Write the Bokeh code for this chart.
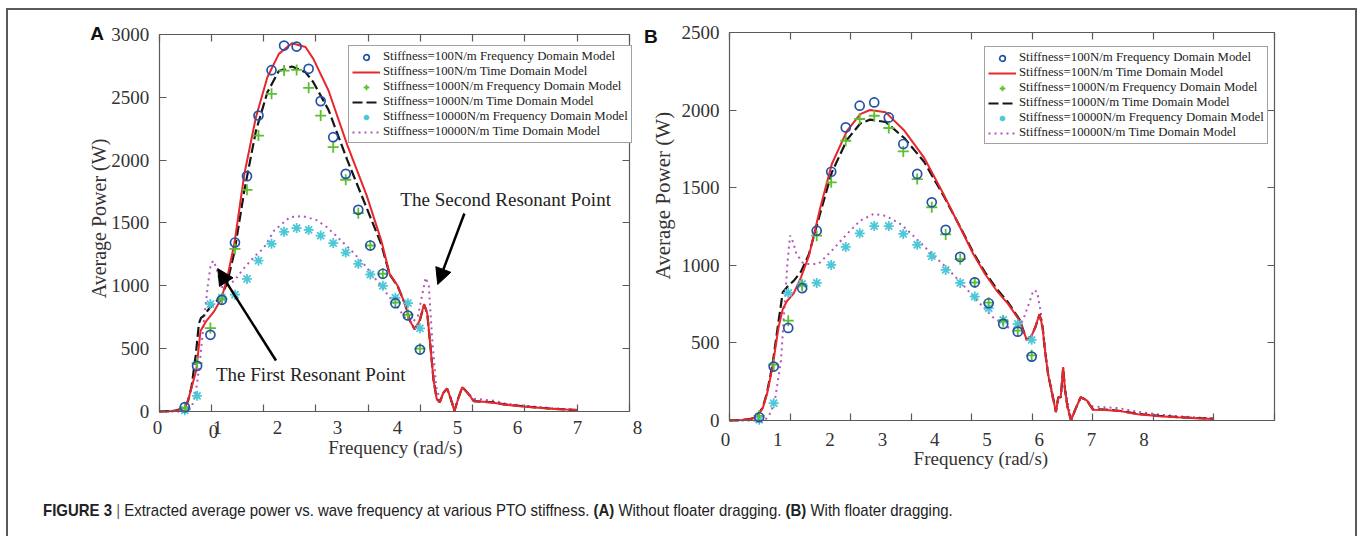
import numpy as np
from bokeh.plotting import figure
from bokeh.models import (Range1d, FixedTicker, Legend, LegendItem, Label,
                          Arrow, NormalHead, Div, Spacer, LinearAxis)
from bokeh.layouts import row, column
from bokeh.embed import file_html
from bokeh.resources import INLINE

SERIF = "Liberation Serif"
SANS = "Liberation Sans"

# ------------------------------------------------------------------ data
xtick_labels = ["0", "1", "2", "3", "4", "5", "6", "7", "8"]
xtick_label_values = [0, 1, 2, 3, 4, 5, 6, 7, 8]
x_ticks = [0, 1, 2, 3, 4, 5, 6, 7, 8, 9]
A_yticks = [0, 500, 1000, 1500, 2000, 2500, 3000]
B_yticks = [0, 500, 1000, 1500, 2000, 2500]

legend_labels = ["Stiffness=100N/m Frequency Domain Model",
                 "Stiffness=100N/m Time Domain Model",
                 "Stiffness=1000N/m Frequency Domain Model",
                 "Stiffness=1000N/m Time Domain Model",
                 "Stiffness=10000N/m Frequency Domain Model",
                 "Stiffness=10000N/m Time Domain Model"]

# Panel A (without floater dragging)
A_freq_fd = [0.49, 0.725, 0.98, 1.20, 1.45, 1.68, 1.90, 2.15, 2.39, 2.63, 2.86, 3.09, 3.33,
             3.57, 3.81, 4.04, 4.28, 4.52, 4.76, 4.99]
A_k100_fd = [35, 363, 610, 889, 1345, 1873, 2355, 2716, 2912, 2904, 2727, 2470, 2183, 1891,
             1605, 1321, 1096, 862, 764, 493]
A_k1000_fd = [30, 385, 664, 897, 1294, 1764, 2196, 2528, 2713, 2718, 2576, 2355, 2103, 1844,
              1578, 1321, 1096, 866, 770, 500]
A_k10000_fd = [10, 125, 855, 905, 930, 1055, 1200, 1335, 1430, 1460, 1445, 1400, 1340, 1265,
               1175, 1090, 1000, 905, 862, 662]

A_freq_k100_td = [0, 0.2, 0.4, 0.5, 0.565, 0.62, 0.71, 0.79, 0.9, 1.04, 1.19, 1.3, 1.44, 1.63,
                  1.85, 2.07, 2.29, 2.54, 2.8, 2.95, 3.24, 3.6, 3.97, 4.25, 4.41, 4.56, 4.7, 4.8,
                  4.89, 4.98, 5.07, 5.13, 5.18, 5.25, 5.31, 5.37, 5.44, 5.51, 5.58, 5.65, 5.72,
                  5.8, 5.9, 6.02, 6.2, 6.4, 6.6, 6.9, 7.2, 7.5, 7.8, 8.0]
A_k100_td = [0, 2, 12, 30, 110, 190, 330, 640, 720, 790, 898, 1060, 1340, 1890, 2340, 2660,
             2846, 2930, 2900, 2806, 2554, 2120, 1720, 1360, 1096, 1003, 858, 720, 652, 720,
             855, 780, 565, 250, 100, 74, 150, 183, 100, 5, 100, 194, 150, 82, 78, 70, 55, 42,
             32, 22, 15, 11]

A_freq_k1000_td = [0, 0.3, 0.45, 0.55, 0.62, 0.7, 0.76, 0.8, 0.85, 0.92, 1.0, 1.1, 1.2, 1.3,
                   1.44, 1.63, 1.85, 2.07, 2.29, 2.54, 2.8, 2.95, 3.24, 3.6, 3.97, 4.25, 4.41,
                   4.56, 4.7, 4.8, 4.89, 4.98, 5.07, 5.13, 5.18, 5.25, 5.31, 5.37, 5.44, 5.51,
                   5.58, 5.65, 5.72, 5.8, 5.9, 6.02, 6.2, 6.4, 6.6, 6.9, 7.2, 7.5, 7.8, 8.0]
A_k1000_td = [0, 5, 25, 80, 200, 450, 700, 745, 760, 800, 840, 880, 930, 1020, 1270, 1760,
              2230, 2540, 2710, 2745, 2700, 2620, 2400, 2000, 1620, 1330, 1090, 1000, 860, 720,
              655, 715, 850, 780, 565, 250, 100, 74, 150, 183, 100, 5, 100, 194, 150, 82, 78,
              72, 57, 44, 33, 23, 16, 11]

A_freq_k10000_td = [0, 0.4, 0.55, 0.62, 0.7, 0.78, 0.85, 0.93, 0.98, 1.03, 1.09, 1.19, 1.3,
                    1.44, 1.6, 1.83, 2.0, 2.2, 2.5, 2.74, 3.0, 3.2, 3.38, 3.68, 3.97, 4.26,
                    4.56, 4.7, 4.85, 4.95, 5.02, 5.1, 5.16, 5.22, 5.3, 5.37, 5.44, 5.51, 5.58,
                    5.65, 5.72, 5.8, 5.9, 6.02, 6.2, 6.4, 6.6, 6.9, 7.2, 7.5, 7.8, 8.0]
A_k10000_td = [0, 0, 10, 30, 150, 400, 700, 1000, 1150, 1200, 1150, 990, 1000, 1042, 1130,
               1236, 1300, 1440, 1546, 1555, 1525, 1470, 1400, 1280, 1148, 989, 830, 750, 710,
               760, 900, 1065, 1000, 600, 200, 90, 150, 180, 110, 10, 100, 190, 150, 100, 95,
               85, 65, 50, 38, 27, 18, 12]

# Panel B (with floater dragging)
B_freq_fd = [0.49, 0.73, 0.97, 1.20, 1.44, 1.68, 1.92, 2.15, 2.39, 2.63, 2.87, 3.10, 3.34,
             3.57, 3.81, 4.05, 4.28, 4.52, 4.76, 4.99]
B_k100_fd = [21, 348, 597, 853, 1224, 1604, 1890, 2030, 2051, 1954, 1783, 1590, 1407, 1229,
             1055, 891, 756, 623, 573, 412]
B_k1000_fd = [30, 360, 644, 870, 1192, 1536, 1804, 1944, 1965, 1886, 1735, 1557, 1375, 1200,
              1040, 890, 760, 640, 580, 420]
B_k10000_fd = [5, 112, 823, 881, 887, 1003, 1119, 1207, 1254, 1254, 1203, 1133, 1060, 971,
               887, 799, 724, 649, 623, 520]

B_freq_k100_td = [0, 0.2, 0.35, 0.45, 0.55, 0.62, 0.71, 0.81, 0.88, 0.95, 1.06, 1.18, 1.31,
                  1.5, 1.69, 1.94, 2.16, 2.32, 2.58, 2.89, 3.21, 3.52, 3.84, 4.03, 4.22, 4.41,
                  4.6, 4.79, 4.85, 4.91, 4.98, 5.05, 5.12, 5.17, 5.21, 5.26, 5.33, 5.39, 5.43,
                  5.47, 5.51, 5.54, 5.58, 5.64, 5.72, 5.8, 5.9, 6.0, 6.2, 6.43, 6.75, 7.1, 7.4,
                  7.7, 8.0]
B_k100_td = [0, 3, 10, 25, 80, 172, 344, 601, 719, 770, 820, 923, 1060, 1374, 1654, 1868,
             1976, 2002, 1987, 1868, 1697, 1470, 1220, 1070, 945, 838, 752, 644, 580, 520, 540,
             601, 687, 600, 450, 300, 172, 54, 150, 150, 344, 200, 90, 0, 80, 150, 130, 70, 68,
             62, 40, 28, 21, 15, 10]

B_freq_k1000_td = [0, 0.2, 0.35, 0.45, 0.55, 0.62, 0.71, 0.81, 0.88, 0.95, 1.0, 1.06, 1.18,
                   1.31, 1.5, 1.69, 1.94, 2.16, 2.32, 2.58, 2.89, 3.21, 3.52, 3.84, 4.03, 4.22,
                   4.41, 4.6, 4.79, 4.85, 4.91, 4.98, 5.05, 5.12, 5.17, 5.21, 5.26, 5.33, 5.39,
                   5.43, 5.47, 5.51, 5.54, 5.58, 5.64, 5.72, 5.8, 5.9, 6.0, 6.2, 6.43, 6.75, 7.1,
                   7.4, 7.7, 8.0]
B_k1000_td = [0, 3, 10, 25, 85, 180, 360, 640, 827, 860, 880, 900, 960, 1070, 1340, 1600,
              1810, 1915, 1940, 1925, 1820, 1670, 1460, 1225, 1080, 955, 850, 762, 650, 585,
              520, 540, 601, 685, 600, 450, 300, 172, 54, 150, 150, 340, 200, 90, 0, 80, 150,
              130, 72, 70, 63, 42, 30, 22, 16, 11]

B_freq_k10000_td = [0, 0.5, 0.6, 0.68, 0.75, 0.85, 0.92, 0.96, 1.0, 1.05, 1.1, 1.2, 1.28,
                    1.47, 1.69, 1.94, 2.16, 2.38, 2.58, 2.84, 3.09, 3.34, 3.58, 3.84, 4.09,
                    4.35, 4.6, 4.75, 4.85, 4.95, 5.02, 5.08, 5.14, 5.2, 5.26, 5.33, 5.39, 5.43,
                    5.47, 5.51, 5.55, 5.6, 5.64, 5.72, 5.8, 5.9, 6.0, 6.2, 6.43, 6.75, 7.1,
                    7.4, 7.7, 8.0]
B_k10000_td = [0, 0, 10, 50, 130, 387, 800, 1031, 1192, 1150, 1080, 1020, 1009, 1010, 1095,
               1203, 1289, 1332, 1320, 1263, 1171, 1074, 988, 881, 773, 666, 601, 590, 650,
               760, 840, 830, 700, 515, 300, 150, 80, 140, 150, 300, 190, 90, 10, 80, 150, 130,
               90, 85, 80, 55, 38, 28, 20, 13]

caption_html = ("<b>FIGURE 3</b> <span style='color:#666'>|</span> Extracted average power vs. "
                "wave frequency at various PTO stiffness. <b>(A)</b> Without floater dragging. "
                "<b>(B)</b> With floater dragging.")

# ------------------------------------------------------------------ styles
BLUE = "#2352a6"
RED = "#e8262b"
GREEN = "#5cbf2f"
BLACK = "#161616"
CYAN = "#4ec7d9"
PINK = "#b456b8"
AXC = "#5a5a5a"
TXT = "#333333"


def make_panel(width, height, xr, yr, lab_range, y_end, yticks, lab_standoff):
    p = figure(width=width, height=height, x_range=Range1d(*xr), y_range=Range1d(*yr),
               output_backend="svg", toolbar_location=None,
               x_axis_location=None, y_axis_location=None, min_border=0)
    p.title.visible = False
    p.extra_x_ranges = {"lab": Range1d(*lab_range)}
    p.xgrid.visible = False
    p.ygrid.visible = False
    p.background_fill_color = "white"
    p.border_fill_color = "white"
    p.outline_line_color = None

    def tick_axis(loc, fixed, bounds, ticks):
        ax = LinearAxis(fixed_location=fixed, bounds=bounds,
                        ticker=FixedTicker(ticks=[], minor_ticks=ticks),
                        axis_line_color=AXC, axis_line_width=1.2,
                        major_tick_line_color=None,
                        minor_tick_line_color=AXC, minor_tick_line_width=1.2,
                        minor_tick_in=7, minor_tick_out=0)
        p.add_layout(ax, loc)

    tick_axis("below", 0, (0, 9), x_ticks)
    tick_axis("above", y_end, (0, 9), x_ticks)
    tick_axis("right", 9, (0, y_end), yticks)

    left = LinearAxis(fixed_location=0, bounds=(0, y_end), ticker=FixedTicker(ticks=yticks),
                      axis_line_color=AXC, axis_line_width=1.2,
                      major_tick_line_color=AXC, major_tick_line_width=1.2,
                      major_tick_in=7, major_tick_out=0, minor_tick_line_color=None,
                      major_label_standoff=10, major_label_text_font=SERIF,
                      major_label_text_font_size="19px", major_label_text_color=TXT)
    p.add_layout(left, "left")

    labels = LinearAxis(x_range_name="lab", fixed_location=0,
                        ticker=FixedTicker(ticks=xtick_label_values),
                        major_label_overrides={v: t for v, t in zip(xtick_label_values, xtick_labels)},
                        axis_line_color=None, major_tick_line_color=None,
                        minor_tick_line_color=None, major_tick_in=0, major_tick_out=0,
                        major_label_standoff=lab_standoff, major_label_text_font=SERIF,
                        major_label_text_font_size="19px", major_label_text_color=TXT)
    p.add_layout(labels, "below")
    return p


def add_series(p, fd_x, fd100, fd1000, fd10000, x100, y100, x1000, y1000, x10000, y10000):
    r_pink = p.line(x10000, y10000, line_color=PINK, line_width=2, line_dash="2 4")
    r_black = p.line(x1000, y1000, line_color=BLACK, line_width=2.2, line_dash="10 4")
    r_red = p.line(x100, y100, line_color=RED, line_width=2)
    r_cyan = p.scatter(fd_x, fd10000, marker="asterisk", size=10, line_color=CYAN, line_width=1.8)
    r_green = p.scatter(fd_x, fd1000, marker="cross", size=11, line_color=GREEN, line_width=1.8)
    r_blue = p.scatter(fd_x, fd100, marker="circle", size=9, fill_color=None,
                       line_color=BLUE, line_width=1.7)
    return [r_blue, r_red, r_green, r_black, r_cyan, r_pink]


def add_legend(p, renderers, loc):
    leg = Legend(items=[LegendItem(label=l, renderers=[r]) for l, r in zip(legend_labels, renderers)],
                 location=loc, label_text_font=SERIF, label_text_font_size="12.8px",
                 label_text_color="#222222", glyph_width=28, glyph_height=14, label_height=14,
                 label_standoff=3, spacing=0, padding=3, margin=0,
                 border_line_color="#444444", border_line_width=1,
                 background_fill_color="white", background_fill_alpha=1)
    p.add_layout(leg)


def text(p, x, y, s, size="19px", font=SERIF, angle=0.0, bold=False, color=TXT, rng="default"):
    p.add_layout(Label(x=x, y=y, text=s, text_font=font, text_font_size=size,
                       text_font_style="bold" if bold else "normal", text_color=color,
                       text_align="center", text_baseline="middle", angle=angle,
                       x_range_name=rng))


# ------------------------------------------------------------------ panel A
pA = make_panel(635, 470, (-2.8837, 9.2679), (-549.1, 3191.0), (-2.4833, 8.1),
                3000, A_yticks, 10)
rA = add_series(pA, A_freq_fd, A_k100_fd, A_k1000_fd, A_k10000_fd,
                A_freq_k100_td, A_k100_td, A_freq_k1000_td, A_k1000_td,
                A_freq_k10000_td, A_k10000_td)
add_legend(pA, rA, (340, 337))
text(pA, 0.933, -160, "0", rng="lab")
text(pA, 4.52, -286, "Frequency (rad/s)")
text(pA, -1.16, 1536, "Average Power (W)", size="20px", angle=np.pi / 2)
text(pA, -1.19, 3004, "A", font=SANS, bold=True, color="#111111")
text(pA, 6.63, 1687, "The Second Resonant Point", color="#222222")
text(pA, 2.9, 294, "The First Resonant Point", color="#222222")
pA.add_layout(Arrow(end=NormalHead(size=16, fill_color="black", line_color="black"),
                    x_start=5.84, y_start=1576, x_end=5.33, y_end=1011,
                    line_color="black", line_width=2.5))
pA.add_layout(Arrow(end=NormalHead(size=16, fill_color="black", line_color="black"),
                    x_start=2.235, y_start=406, x_end=1.12, y_end=1137,
                    line_color="black", line_width=2.5))

# ------------------------------------------------------------------ panel B
pB = make_panel(712, 470, (-1.4202, 10.3376), (-386.9, 2643.8), (-1.5679, 12.0459),
                2500, B_yticks, 13)
rB = add_series(pB, B_freq_fd, B_k100_fd, B_k1000_fd, B_k10000_fd,
                B_freq_k100_td, B_k100_td, B_freq_k1000_td, B_k1000_td,
                B_freq_k10000_td, B_k10000_td)
add_legend(pB, rB, (341, 336))
text(pB, 4.19, -245, "Frequency  (rad/s)")
text(pB, -1.09, 1450, "Average Power (W)", size="21px", angle=np.pi / 2)
text(pB, -1.30, 2474, "B", font=SANS, bold=True, color="#111111")

# ------------------------------------------------------------------ layout
LINE = "#5a5a5a"
caption = Div(text=("<div style=\"font-family:'Liberation Sans',Arial,sans-serif;"
                    "font-size:17px;color:#222;padding:21px 0 0 35px;white-space:nowrap;"
                    "line-height:20px;transform:scaleX(0.88);transform-origin:35px 0;\">"
                    + caption_html + "</div>"),
              width=1347, height=56, margin=0)
content = column(row(pA, pB, spacing=0), caption, spacing=0)
top_line = Div(text="", width=1351, height=2, margin=0, styles={"background-color": LINE})
left_line = Div(text="", width=2, height=526, margin=0, styles={"background-color": LINE})
right_line = Div(text="", width=2, height=526, margin=0, styles={"background-color": LINE})
layout = column(
    Spacer(width=1358, height=8, margin=0),
    row(Spacer(width=6, height=2, margin=0), top_line, spacing=0),
    row(Spacer(width=6, height=526, margin=0), left_line, content, right_line, spacing=0),
    spacing=0,
)

open("out.html", "w").write(file_html(layout, INLINE))
